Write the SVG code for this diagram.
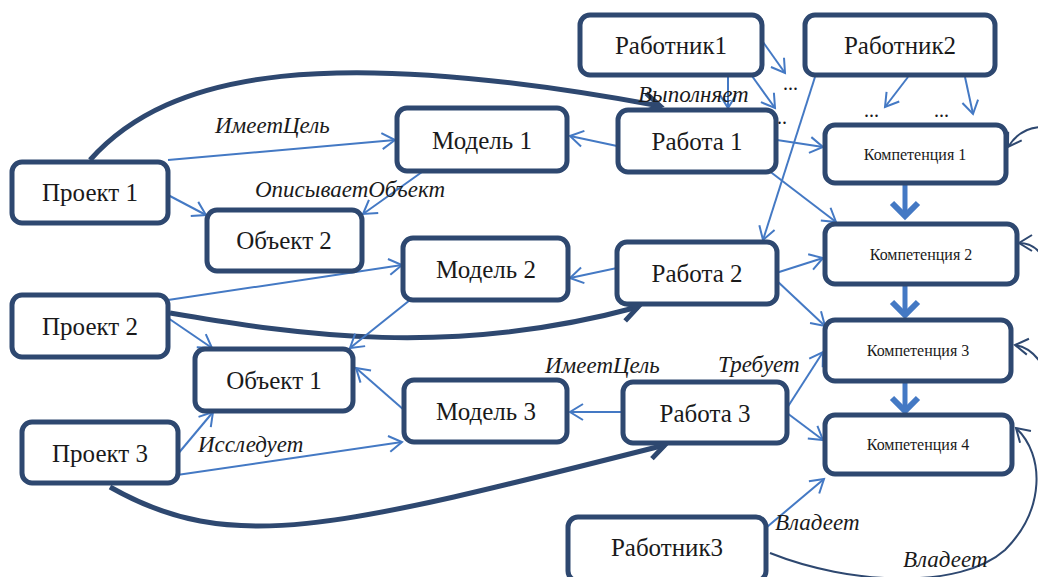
<svg xmlns="http://www.w3.org/2000/svg" width="1038" height="577" viewBox="0 0 1038 577" font-family="'Liberation Serif', 'DejaVu Serif', serif">
<style>
.n rect{fill:#fff;stroke:#2E4870;stroke-width:5}
.n text{font-size:25px;fill:#1a1a1a;text-anchor:middle}
.n text.s{font-size:16px}
.b{fill:none;stroke:#4479C4;stroke-width:2}
.bt{fill:none;stroke:#4479C4;stroke-width:5}
.d{fill:none;stroke:#2E4870;stroke-width:5}
.dt{fill:none;stroke:#2E4870;stroke-width:2}
.lbl{font-style:italic;font-size:23px;fill:#1a1a1a}
.dots{font-size:20px;fill:#1a1a1a}
</style>
<defs>
<marker id="ab" viewBox="-20 -15 30 30" markerWidth="30" markerHeight="30" refX="0" refY="0" orient="auto" markerUnits="userSpaceOnUse" overflow="visible"><path d="M-13,-8 L0,0 L-13,8" fill="none" stroke="#4479C4" stroke-width="2"/></marker>
<marker id="abt" viewBox="-20 -15 30 30" markerWidth="30" markerHeight="30" refX="0" refY="0" orient="auto" markerUnits="userSpaceOnUse" overflow="visible"><path d="M-13,-13 L0,0 L-13,13" fill="none" stroke="#4479C4" stroke-width="6"/></marker>
<marker id="ad" viewBox="-20 -15 30 30" markerWidth="30" markerHeight="30" refX="0" refY="0" orient="auto" markerUnits="userSpaceOnUse" overflow="visible"><path d="M-16,-10 L0,0 L-16,10" fill="none" stroke="#2E4870" stroke-width="5"/></marker>
<marker id="adt" viewBox="-20 -15 30 30" markerWidth="30" markerHeight="30" refX="0" refY="0" orient="auto" markerUnits="userSpaceOnUse" overflow="visible"><path d="M-13,-8 L0,0 L-13,8" fill="none" stroke="#2E4870" stroke-width="2"/></marker>
</defs>
<g id="connectors">
<path class="d" d="M90,160 C170,70 330,45 660,106" marker-end="url(#ad)"/>
<path class="d" d="M170,313 C300,335 450,358 638,307" marker-end="url(#ad)"/>
<path class="d" d="M110,487 C230,555 330,530 665,445" marker-end="url(#ad)"/>
<path class="b" d="M168,160 L395,140" marker-end="url(#ab)"/>
<path class="b" d="M168,195 L206,215" marker-end="url(#ab)"/>
<path class="b" d="M422,172 L363,214" marker-end="url(#ab)"/>
<path class="b" d="M617,146 L570,136" marker-end="url(#ab)"/>
<path class="b" d="M728,76 L728,108" marker-end="url(#ab)"/>
<path class="b" d="M763,42 L785,73" marker-end="url(#ab)"/>
<path class="b" d="M752,76 L775,108" marker-end="url(#ab)"/>
<path class="b" d="M908,77 L885,107" marker-end="url(#ab)"/>
<path class="b" d="M965,77 L973,114" marker-end="url(#ab)"/>
<path class="b" d="M815,77 L763,240" marker-end="url(#ab)"/>
<path class="b" d="M777,140 L823,147" marker-end="url(#ab)"/>
<path class="b" d="M768,170 L836,222" marker-end="url(#ab)"/>
<path class="bt" d="M905,184 L905,216" marker-end="url(#abt)"/>
<path class="bt" d="M905,285 L905,315" marker-end="url(#abt)"/>
<path class="bt" d="M905,382 L905,411" marker-end="url(#abt)"/>
<path class="b" d="M617,268 L570,278" marker-end="url(#ab)"/>
<path class="b" d="M168,300 L402,265" marker-end="url(#ab)"/>
<path class="b" d="M168,318 L212,348" marker-end="url(#ab)"/>
<path class="b" d="M410,300 L350,348" marker-end="url(#ab)"/>
<path class="b" d="M776,273 L823,258" marker-end="url(#ab)"/>
<path class="b" d="M776,280 L825,326" marker-end="url(#ab)"/>
<path class="b" d="M623,412 L570,412" marker-end="url(#ab)"/>
<path class="b" d="M404,410 L356,368" marker-end="url(#ab)"/>
<path class="b" d="M177,455 L213,412" marker-end="url(#ab)"/>
<path class="b" d="M177,475 L402,442" marker-end="url(#ab)"/>
<path class="b" d="M787,408 L823,352" marker-end="url(#ab)"/>
<path class="b" d="M787,413 L823,440" marker-end="url(#ab)"/>
<path class="b" d="M767,527 L824,479" marker-end="url(#ab)"/>
<path class="dt" d="M770,553 C850,585 960,590 1005,550 C1045,510 1045,455 1016,428" marker-end="url(#adt)"/>
<path class="dt" d="M1040,127 Q1020,128 1008,147" marker-end="url(#adt)"/>
<path class="dt" d="M1040,253 Q1032,243 1019,243" marker-end="url(#adt)"/>
<path class="dt" d="M1040,362 Q1030,347 1015,345" marker-end="url(#adt)"/>
</g>
<g id="labels">
<text class="lbl" x="215" y="133">ИмеетЦель</text>
<text class="lbl" x="255" y="197">ОписываетОбъект</text>
<text class="lbl" x="638" y="102">Выполняет</text>
<text class="lbl" x="545" y="373">ИмеетЦель</text>
<text class="lbl" x="718" y="372">Требует</text>
<text class="lbl" x="198" y="452">Исследует</text>
<text class="lbl" x="775" y="530">Владеет</text>
<text class="lbl" x="903" y="567">Владеет</text>
<text class="dots" x="783" y="90">...</text>
<text class="dots" x="772" y="124">...</text>
<text class="dots" x="864" y="117">...</text>
<text class="dots" x="934" y="117">...</text>
</g>
<g id="rabotnik1" class="n"><rect x="580" y="15" width="182" height="60" rx="10"/><text x="671" y="54">Работник1</text></g>
<g id="rabotnik2" class="n"><rect x="805" y="15" width="190" height="60" rx="10"/><text x="900" y="54">Работник2</text></g>
<g id="rabota1" class="n"><rect x="618" y="110" width="158" height="62" rx="10"/><text x="697" y="150">Работа 1</text></g>
<g id="model1" class="n"><rect x="397" y="108" width="170" height="63" rx="10"/><text x="482" y="149">Модель 1</text></g>
<g id="proekt1" class="n"><rect x="12" y="162" width="156" height="61" rx="10"/><text x="90" y="201">Проект 1</text></g>
<g id="obekt2" class="n"><rect x="207" y="210" width="155" height="61" rx="10"/><text x="284" y="249">Объект 2</text></g>
<g id="model2" class="n"><rect x="403" y="238" width="165" height="62" rx="10"/><text x="486" y="278">Модель 2</text></g>
<g id="rabota2" class="n"><rect x="617" y="242" width="160" height="62" rx="10"/><text x="697" y="282">Работа 2</text></g>
<g id="proekt2" class="n"><rect x="12" y="295" width="156" height="62" rx="10"/><text x="90" y="335">Проект 2</text></g>
<g id="obekt1" class="n"><rect x="195" y="349" width="158" height="62" rx="10"/><text x="274" y="389">Объект 1</text></g>
<g id="model3" class="n"><rect x="404" y="380" width="163" height="62" rx="10"/><text x="486" y="420">Модель 3</text></g>
<g id="rabota3" class="n"><rect x="623" y="382" width="164" height="61" rx="10"/><text x="705" y="422">Работа 3</text></g>
<g id="proekt3" class="n"><rect x="22" y="422" width="156" height="61" rx="10"/><text x="100" y="462">Проект 3</text></g>
<g id="komp1" class="n"><rect x="825" y="125" width="181" height="58" rx="10"/><text class="s" x="915" y="160">Компетенция 1</text></g>
<g id="komp2" class="n"><rect x="825" y="224" width="192" height="60" rx="10"/><text class="s" x="921" y="260">Компетенция 2</text></g>
<g id="komp3" class="n"><rect x="825" y="320" width="186" height="61" rx="10"/><text class="s" x="918" y="356">Компетенция 3</text></g>
<g id="komp4" class="n"><rect x="825" y="415" width="187" height="59" rx="10"/><text class="s" x="918" y="450">Компетенция 4</text></g>
<g id="rabotnik3" class="n"><rect x="568" y="517" width="198" height="64" rx="10"/><text x="667" y="556">Работник3</text></g>
</svg>
